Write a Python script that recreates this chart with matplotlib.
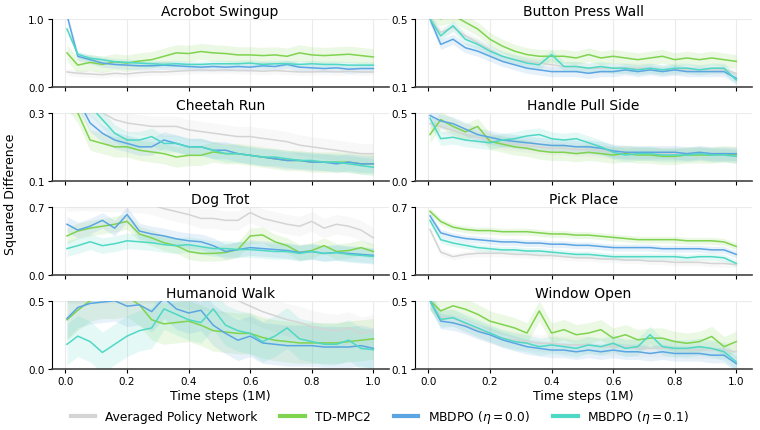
import numpy as np
import matplotlib.pyplot as plt

# time grid (1M steps)
steps = [0.005, 0.04, 0.08, 0.12, 0.16, 0.20, 0.24, 0.28, 0.32, 0.36, 0.40, 0.44, 0.48,
         0.52, 0.56, 0.60, 0.64, 0.68, 0.72, 0.76, 0.80, 0.84, 0.88, 0.92, 0.96, 1.0]

methods = ["Averaged Policy Network", "TD-MPC2", r"MBDPO ($\eta = 0.0$)", r"MBDPO ($\eta = 0.1$)"]
colors = ["#d4d4d4", "#7fd34e", "#5ba5e3", "#4fd8c4"]

tasks = ["Acrobot Swingup", "Button Press Wall", "Cheetah Run", "Handle Pull Side",
         "Dog Trot", "Pick Place", "Humanoid Walk", "Window Open"]
ylims = [(0.0, 1.0), (0.1, 0.5), (0.1, 0.3), (0.0, 0.5),
         (0.0, 0.7), (0.1, 0.7), (0.0, 0.5), (0.1, 0.5)]

# mean curves per task: [averaged, tdmpc2, mbdpo 0.0, mbdpo 0.1]
acrobot = [
    [0.22, 0.20, 0.19, 0.18, 0.20, 0.19, 0.21, 0.22, 0.22, 0.23, 0.24, 0.25, 0.24, 0.25, 0.24, 0.24, 0.23, 0.24, 0.23, 0.22, 0.22, 0.23, 0.22, 0.23, 0.22, 0.22],
    [0.50, 0.32, 0.36, 0.33, 0.37, 0.35, 0.38, 0.40, 0.45, 0.50, 0.49, 0.52, 0.50, 0.49, 0.47, 0.47, 0.46, 0.47, 0.45, 0.50, 0.47, 0.46, 0.47, 0.48, 0.46, 0.44],
    [1.05, 0.45, 0.40, 0.35, 0.33, 0.32, 0.31, 0.31, 0.32, 0.31, 0.30, 0.29, 0.30, 0.29, 0.30, 0.29, 0.31, 0.30, 0.33, 0.29, 0.28, 0.27, 0.28, 0.26, 0.27, 0.27],
    [0.85, 0.48, 0.42, 0.40, 0.37, 0.36, 0.35, 0.34, 0.33, 0.34, 0.33, 0.33, 0.34, 0.34, 0.34, 0.35, 0.33, 0.34, 0.34, 0.33, 0.34, 0.33, 0.33, 0.32, 0.32, 0.32],
]
button = [
    [0.50, 0.42, 0.45, 0.40, 0.36, 0.32, 0.28, 0.26, 0.25, 0.24, 0.23, 0.22, 0.22, 0.21, 0.21, 0.21, 0.21, 0.21, 0.21, 0.20, 0.20, 0.20, 0.20, 0.20, 0.20, 0.18],
    [0.52, 0.50, 0.52, 0.48, 0.44, 0.38, 0.34, 0.31, 0.29, 0.28, 0.28, 0.28, 0.27, 0.29, 0.27, 0.28, 0.27, 0.26, 0.27, 0.28, 0.26, 0.27, 0.26, 0.27, 0.26, 0.25],
    [0.50, 0.35, 0.38, 0.33, 0.31, 0.28, 0.25, 0.23, 0.21, 0.20, 0.19, 0.19, 0.19, 0.18, 0.19, 0.19, 0.20, 0.19, 0.20, 0.19, 0.20, 0.19, 0.19, 0.19, 0.19, 0.15],
    [0.50, 0.40, 0.46, 0.38, 0.35, 0.31, 0.28, 0.26, 0.24, 0.23, 0.29, 0.22, 0.22, 0.21, 0.22, 0.21, 0.21, 0.20, 0.21, 0.20, 0.21, 0.21, 0.20, 0.21, 0.21, 0.14],
]
cheetah = [
    [0.36, 0.34, 0.32, 0.30, 0.28, 0.27, 0.265, 0.26, 0.26, 0.26, 0.25, 0.245, 0.24, 0.235, 0.23, 0.23, 0.225, 0.22, 0.215, 0.205, 0.20, 0.195, 0.19, 0.185, 0.18, 0.18],
    [0.34, 0.30, 0.22, 0.21, 0.20, 0.20, 0.19, 0.185, 0.18, 0.17, 0.175, 0.175, 0.185, 0.18, 0.18, 0.175, 0.17, 0.165, 0.16, 0.16, 0.155, 0.155, 0.155, 0.155, 0.15, 0.15],
    [0.36, 0.34, 0.27, 0.24, 0.22, 0.21, 0.20, 0.20, 0.22, 0.21, 0.20, 0.20, 0.19, 0.19, 0.18, 0.175, 0.17, 0.165, 0.16, 0.16, 0.155, 0.155, 0.15, 0.155, 0.15, 0.15],
    [0.36, 0.34, 0.32, 0.28, 0.24, 0.22, 0.22, 0.23, 0.21, 0.21, 0.20, 0.20, 0.19, 0.18, 0.18, 0.175, 0.17, 0.17, 0.165, 0.16, 0.16, 0.155, 0.155, 0.15, 0.145, 0.14],
]
handle = [
    [0.42, 0.40, 0.37, 0.34, 0.32, 0.30, 0.28, 0.27, 0.26, 0.25, 0.24, 0.24, 0.23, 0.23, 0.22, 0.21, 0.21, 0.20, 0.20, 0.20, 0.20, 0.20, 0.20, 0.19, 0.19, 0.19],
    [0.34, 0.45, 0.40, 0.36, 0.40, 0.29, 0.27, 0.25, 0.24, 0.22, 0.21, 0.21, 0.20, 0.21, 0.20, 0.19, 0.20, 0.19, 0.19, 0.18, 0.18, 0.19, 0.19, 0.19, 0.20, 0.19],
    [0.48, 0.44, 0.42, 0.38, 0.34, 0.32, 0.30, 0.29, 0.28, 0.27, 0.26, 0.26, 0.25, 0.25, 0.24, 0.22, 0.21, 0.21, 0.21, 0.21, 0.21, 0.20, 0.21, 0.20, 0.20, 0.20],
    [0.46, 0.31, 0.32, 0.30, 0.29, 0.28, 0.30, 0.31, 0.33, 0.34, 0.31, 0.30, 0.31, 0.28, 0.25, 0.21, 0.19, 0.20, 0.20, 0.19, 0.19, 0.19, 0.20, 0.19, 0.19, 0.18],
]
dog = [
    [0.75, 0.76, 0.76, 0.75, 0.75, 0.74, 0.74, 0.72, 0.68, 0.65, 0.62, 0.58, 0.58, 0.56, 0.56, 0.64, 0.58, 0.55, 0.52, 0.50, 0.55, 0.48, 0.52, 0.50, 0.46, 0.38],
    [0.40, 0.45, 0.48, 0.50, 0.52, 0.55, 0.42, 0.38, 0.33, 0.30, 0.24, 0.22, 0.22, 0.23, 0.26, 0.40, 0.41, 0.34, 0.30, 0.23, 0.25, 0.30, 0.24, 0.25, 0.28, 0.24],
    [0.52, 0.46, 0.50, 0.56, 0.48, 0.62, 0.45, 0.42, 0.40, 0.37, 0.35, 0.34, 0.30, 0.24, 0.26, 0.28, 0.27, 0.26, 0.25, 0.23, 0.24, 0.22, 0.23, 0.22, 0.21, 0.20],
    [0.27, 0.30, 0.34, 0.30, 0.32, 0.35, 0.34, 0.33, 0.31, 0.30, 0.31, 0.29, 0.27, 0.27, 0.26, 0.26, 0.25, 0.24, 0.24, 0.22, 0.24, 0.22, 0.23, 0.21, 0.20, 0.19],
]
pick = [
    [0.50, 0.30, 0.26, 0.28, 0.29, 0.29, 0.29, 0.28, 0.28, 0.27, 0.27, 0.26, 0.25, 0.25, 0.24, 0.24, 0.23, 0.23, 0.22, 0.22, 0.21, 0.21, 0.21, 0.20, 0.20, 0.19],
    [0.66, 0.57, 0.52, 0.50, 0.49, 0.49, 0.48, 0.48, 0.48, 0.47, 0.46, 0.46, 0.45, 0.45, 0.44, 0.43, 0.42, 0.41, 0.41, 0.41, 0.41, 0.40, 0.40, 0.40, 0.39, 0.35],
    [0.62, 0.47, 0.44, 0.42, 0.41, 0.40, 0.39, 0.39, 0.38, 0.38, 0.37, 0.37, 0.36, 0.36, 0.35, 0.34, 0.34, 0.34, 0.34, 0.33, 0.33, 0.33, 0.33, 0.32, 0.32, 0.28],
    [0.58, 0.41, 0.38, 0.36, 0.34, 0.33, 0.32, 0.32, 0.31, 0.31, 0.30, 0.29, 0.28, 0.28, 0.27, 0.26, 0.26, 0.26, 0.26, 0.26, 0.26, 0.25, 0.26, 0.26, 0.25, 0.20],
]
humanoid = [
    [0.60, 0.60, 0.60, 0.60, 0.60, 0.60, 0.60, 0.60, 0.60, 0.58, 0.56, 0.55, 0.54, 0.52, 0.50, 0.46, 0.42, 0.39, 0.36, 0.34, 0.31, 0.29, 0.28, 0.30, 0.26, 0.28],
    [0.36, 0.43, 0.50, 0.52, 0.52, 0.53, 0.47, 0.36, 0.33, 0.34, 0.35, 0.32, 0.28, 0.27, 0.26, 0.26, 0.23, 0.21, 0.20, 0.19, 0.19, 0.19, 0.19, 0.20, 0.21, 0.22],
    [0.37, 0.45, 0.48, 0.49, 0.50, 0.46, 0.47, 0.42, 0.52, 0.44, 0.41, 0.43, 0.32, 0.26, 0.21, 0.24, 0.19, 0.18, 0.17, 0.17, 0.17, 0.16, 0.16, 0.16, 0.17, 0.15],
    [0.18, 0.24, 0.20, 0.12, 0.18, 0.24, 0.28, 0.30, 0.44, 0.40, 0.36, 0.34, 0.44, 0.32, 0.28, 0.26, 0.20, 0.24, 0.30, 0.22, 0.20, 0.18, 0.18, 0.21, 0.15, 0.14],
]
window = [
    [0.50, 0.40, 0.40, 0.36, 0.33, 0.30, 0.28, 0.27, 0.26, 0.25, 0.25, 0.24, 0.24, 0.24, 0.23, 0.23, 0.23, 0.22, 0.22, 0.22, 0.22, 0.21, 0.21, 0.21, 0.21, 0.20],
    [0.50, 0.44, 0.47, 0.45, 0.42, 0.38, 0.36, 0.34, 0.31, 0.44, 0.31, 0.33, 0.30, 0.31, 0.33, 0.28, 0.30, 0.27, 0.28, 0.28, 0.26, 0.25, 0.26, 0.29, 0.23, 0.26],
    [0.50, 0.38, 0.37, 0.35, 0.32, 0.30, 0.27, 0.25, 0.23, 0.22, 0.21, 0.21, 0.20, 0.21, 0.20, 0.21, 0.20, 0.20, 0.19, 0.20, 0.19, 0.19, 0.19, 0.18, 0.18, 0.13],
    [0.50, 0.39, 0.40, 0.37, 0.34, 0.31, 0.28, 0.26, 0.25, 0.23, 0.24, 0.23, 0.22, 0.24, 0.23, 0.25, 0.22, 0.23, 0.30, 0.23, 0.22, 0.22, 0.23, 0.22, 0.20, 0.14],
]
curves = [acrobot, button, cheetah, handle, dog, pick, humanoid, window]

# half-width of the shaded band per task and method
spread = [
    [0.05, 0.12, 0.06, 0.05],
    [0.03, 0.04, 0.03, 0.03],
    [0.03, 0.03, 0.025, 0.025],
    [0.05, 0.06, 0.05, 0.05],
    [0.10, 0.08, 0.08, 0.08],
    [0.03, 0.03, 0.03, 0.03],
    [0.12, 0.15, 0.15, 0.15],
    [0.05, 0.06, 0.045, 0.05],
]

fig, axes = plt.subplots(4, 2, figsize=(7.6, 4.31), dpi=100, sharex=True)
fig.subplots_adjust(left=0.068, right=0.989, top=0.954, bottom=0.142, wspace=0.077, hspace=0.38)

x = np.array(steps)
for k, ax in enumerate(axes.flat):
    lo, hi = ylims[k]
    for m in range(4):
        y = np.array(curves[k][m])
        s = spread[k][m]
        ax.fill_between(x, y - s, y + s, color=colors[m], alpha=0.15, lw=0)
        ax.plot(x, y, color=colors[m], lw=1.1)
    ax.set_ylim(lo, hi)
    ax.set_yticks([lo, hi])
    ax.set_yticklabels(["%.1f" % lo, "%.1f" % hi])
    ax.set_xticks([0.0, 0.2, 0.4, 0.6, 0.8, 1.0])
    ax.set_title(tasks[k], fontsize=10, pad=3)
    ax.grid(True, color="#ebebeb", lw=0.8)
    ax.set_axisbelow(True)
    ax.spines["top"].set_visible(False)
    ax.spines["right"].set_visible(False)
    ax.spines["bottom"].set_color("#444444")
    ax.spines["bottom"].set_linewidth(1.2)
    ax.tick_params(labelsize=7.5, length=3, pad=2)

for ax in axes[-1]:
    ax.set_xlabel("Time steps (1M)", fontsize=9, labelpad=2)

fig.text(0.014, 0.548, "Squared Difference", rotation=90, va="center", ha="center", fontsize=9)

handles = [plt.Line2D([], [], color=c, lw=3) for c in colors]
fig.legend(handles, methods, loc="center", bbox_to_anchor=(0.5, 0.031), ncol=4,
           frameon=False, fontsize=8.8, handlelength=2.0, columnspacing=1.9)

fig.savefig("out.png", dpi=100)
